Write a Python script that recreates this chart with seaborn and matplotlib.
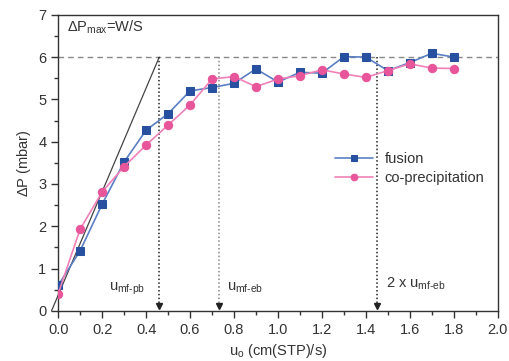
# Pressure drop vs superficial velocity (fusion vs co-precipitation)

import seaborn as sns
import matplotlib.pyplot as plt
from matplotlib.ticker import MultipleLocator
import pandas as pd

# data
u_fusion = [0.0, 0.1, 0.2, 0.3, 0.4, 0.5, 0.6, 0.7, 0.8, 0.9,
            1.0, 1.1, 1.2, 1.3, 1.4, 1.5, 1.6, 1.7, 1.8]
dp_fusion = [0.60, 1.42, 2.52, 3.52, 4.27, 4.66, 5.20, 5.28, 5.38, 5.72,
             5.41, 5.64, 5.62, 6.01, 6.00, 5.68, 5.87, 6.09, 6.00]
u_coprec = [0.0, 0.1, 0.2, 0.3, 0.4, 0.5, 0.6, 0.7, 0.8, 0.9,
            1.0, 1.1, 1.2, 1.3, 1.4, 1.5, 1.6, 1.7, 1.8]
dp_coprec = [0.40, 1.93, 2.81, 3.41, 3.92, 4.39, 4.87, 5.48, 5.54, 5.30,
             5.48, 5.56, 5.70, 5.60, 5.52, 5.68, 5.84, 5.74, 5.73]

dp_max = 6.0
u_mf_pb = 0.46
u_mf_eb = 0.73
u_2x_eb = 1.45
slope_x = [-0.03, 0.46]
slope_y = [0.0, 6.0]

df_f = pd.DataFrame({'u': u_fusion, 'dp': dp_fusion})
df_c = pd.DataFrame({'u': u_coprec, 'dp': dp_coprec})

sns.set_theme(style="ticks")
plt.rcParams['font.family'] = ['Liberation Sans', 'DejaVu Sans']
plt.rcParams['mathtext.fontset'] = 'custom'
plt.rcParams['mathtext.rm'] = 'Liberation Sans'
plt.rcParams['mathtext.it'] = 'Liberation Sans'

fig = plt.figure(figsize=(5.1, 3.61), dpi=100)
ax = fig.add_axes([0.114, 0.139, 0.862, 0.82])

# reference lines
ax.axhline(dp_max, color='#888888', ls=(0, (4, 3)), lw=1.0, zorder=1)
ax.plot(slope_x, slope_y, color='#444444', lw=0.9, clip_on=False, zorder=2)
for xv, c in [(u_mf_pb, '#222222'), (u_mf_eb, '#888888'), (u_2x_eb, '#222222')]:
    ax.plot([xv, xv], [dp_max, 0.1], color=c, ls=(0, (1, 1.5)), lw=1.1, zorder=1)
    ax.plot([xv], [0.12], marker='v', color='#222222', ms=5, zorder=3)

sns.lineplot(data=df_f, x='u', y='dp', ax=ax, color='#5b7fc4', lw=1.2,
             marker='s', markersize=5.5, markerfacecolor='#2850a0',
             markeredgecolor='#2850a0', label='fusion', zorder=4)
sns.lineplot(data=df_c, x='u', y='dp', ax=ax, color='#f080b8', lw=1.2,
             marker='o', markersize=6, markerfacecolor='#e8559a',
             markeredgecolor='#e8559a', label='co-precipitation', zorder=5)

ax.set_xlim(0, 2.0)
ax.set_ylim(0, 7)
ax.xaxis.set_major_locator(MultipleLocator(0.2))
ax.xaxis.set_minor_locator(MultipleLocator(0.1))
ax.yaxis.set_major_locator(MultipleLocator(1))
ax.yaxis.set_minor_locator(MultipleLocator(0.5))
ax.tick_params(which='major', direction='out', length=5, width=1,
               color='#333333', labelcolor='#333333', labelsize=10.5)
ax.tick_params(which='minor', direction='out', length=3, width=1, color='#333333')
for s in ax.spines.values():
    s.set_visible(True)
    s.set_color('#333333')
    s.set_linewidth(1.0)

ax.set_xlabel(r'u$_{\rm o}$ (cm(STP)/s)', fontsize=10.5, color='#333333')
ax.set_ylabel(r'$\Delta$P (mbar)', fontsize=10.5, color='#333333')

ax.text(0.04, 6.6, r'$\Delta$P$_{\rm max}$=W/S', fontsize=10.5, color='#333333')
ax.text(0.23, 0.47, r'u$_{\text{mf-pb}}$', fontsize=10.5, color='#333333')
ax.text(0.77, 0.47, r'u$_{\text{mf-eb}}$', fontsize=10.5, color='#333333')
ax.text(1.49, 0.55, r'2 x u$_{\text{mf-eb}}$', fontsize=10.5, color='#333333')

ax.legend(loc='upper left', bbox_to_anchor=(0.6, 0.58), frameon=False,
          fontsize=10.5, handlelength=2.6, labelspacing=0.3,
          labelcolor='#333333', markerscale=0.8)

plt.savefig('out.png', dpi=100)
